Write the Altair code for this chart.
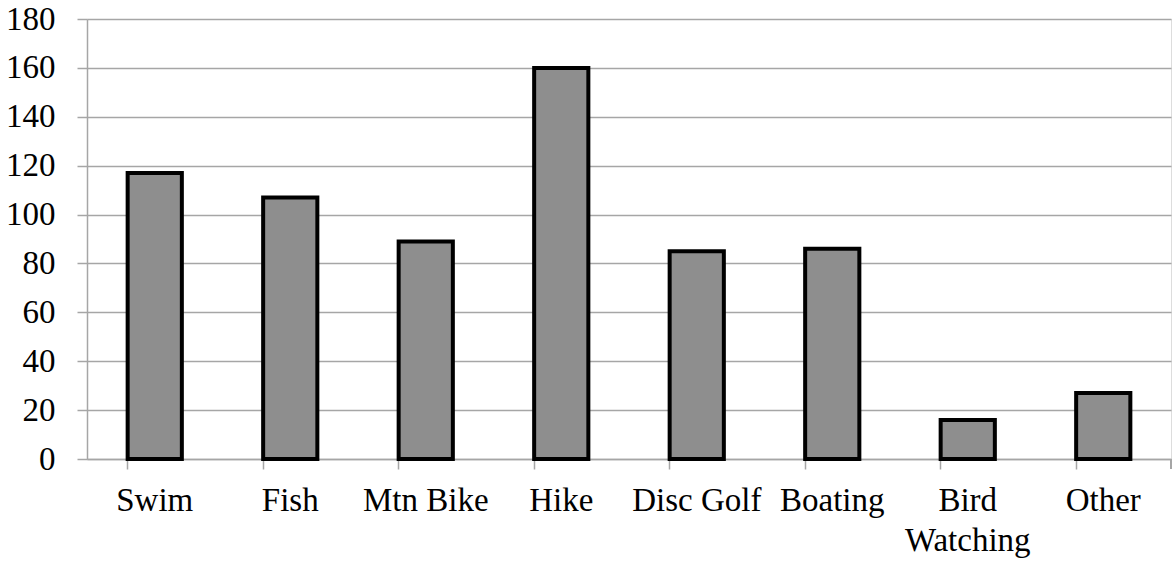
import altair as alt
import pandas as pd

categories = ["Swim", "Fish", "Mtn Bike", "Hike", "Disc Golf", "Boating", "Bird Watching", "Other"]
values = [117, 107, 89, 160, 85, 86, 16, 27]

df = pd.DataFrame({"activity": categories, "count": values})

W, H = 1084, 440
GRID = "#a6a6a6"
FONT = "Liberation Serif"

bars = alt.Chart(df).mark_bar(
    color="#8e8e8e", stroke="black", strokeWidth=4, strokeJoin="miter"
).encode(
    x=alt.X(
        "activity:N",
        sort=categories,
        scale=alt.Scale(paddingInner=0.6, paddingOuter=0.3),
        axis=alt.Axis(
            title=None, labelAngle=0, bandPosition=0, ticks=True, tickSize=10,
            tickColor=GRID, tickWidth=1.5, domainColor=GRID, domainWidth=1.5,
            labelFont=FONT, labelFontSize=33, labelColor="black", labelPadding=15,
            labelLineHeight=40, labelBaseline="top",
            labelExpr="datum.label == 'Bird Watching' ? ['Bird', 'Watching'] : datum.label",
            grid=False,
        ),
    ),
    y=alt.Y(
        "count:Q",
        scale=alt.Scale(domain=[0, 180], nice=False),
        axis=alt.Axis(
            title=None, values=list(range(0, 181, 20)), tickSize=10, tickColor=GRID,
            tickWidth=1.5, domainColor=GRID, domainWidth=1.5, gridColor=GRID,
            gridWidth=1.5, labelFont=FONT, labelFontSize=33, labelColor="black",
            labelPadding=22,
        ),
    ),
)

end_tick = alt.Chart(df).mark_rule(color=GRID, strokeWidth=1.5).encode(
    x=alt.value(W), y=alt.value(H), y2=alt.value(H + 10)
)

chart = alt.layer(bars, end_tick).properties(
    width=W, height=H,
    autosize=alt.AutoSizeParams(type="none"),
    padding={"left": 87, "top": 19, "right": 2, "bottom": 102},
).configure_view(stroke=None).configure(background="white")

chart.save("out.html", embed_options={"renderer": "svg", "actions": False})
